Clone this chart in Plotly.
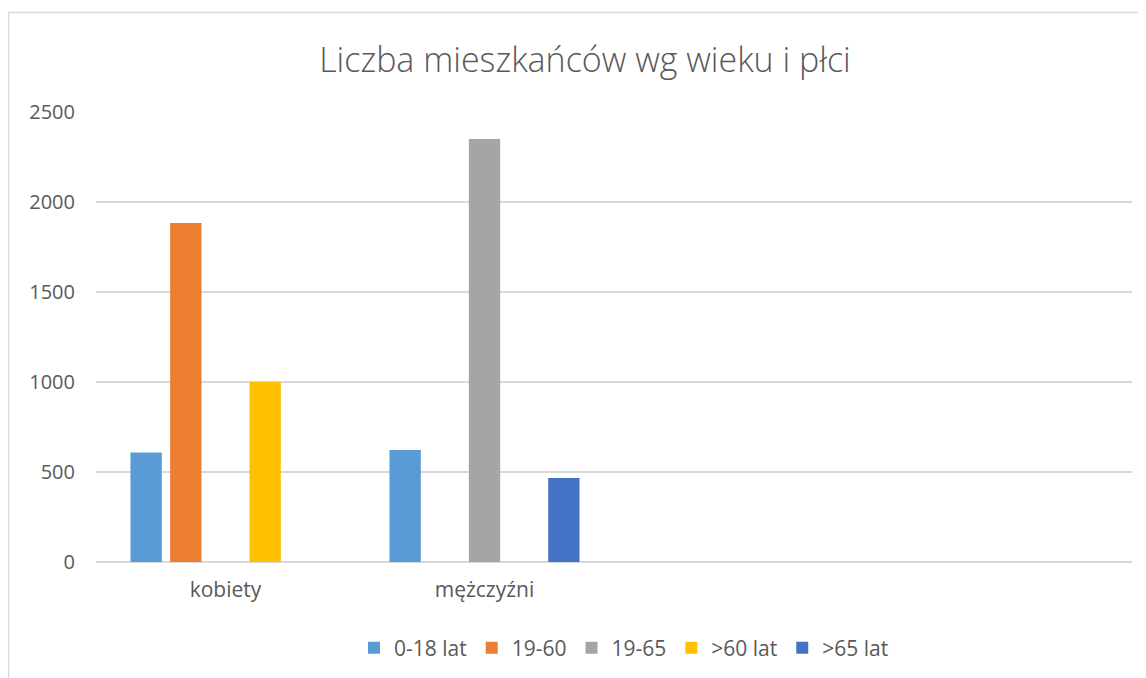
import plotly.graph_objects as go

categories = ["kobiety", "mężczyźni", " ", "  "]
series_names = ["0-18 lat", "19-60", "19-65", ">60 lat", ">65 lat"]
v_0_18 = [609, 622, None, None]
v_19_60 = [1883, None, None, None]
v_19_65 = [None, 2350, None, None]
v_60 = [1000, None, None, None]
v_65 = [None, 467, None, None]
colors = ["#5B9BD5", "#ED7D31", "#A5A5A5", "#FFC000", "#4472C4"]
y_ticks = [0, 500, 1000, 1500, 2000, 2500]

values = [v_0_18, v_19_60, v_19_65, v_60, v_65]
font = "Open Sans"
txt = "#595959"

fig = go.Figure()
for name, vals, col in zip(series_names, values, colors):
    fig.add_trace(go.Bar(x=categories, y=vals, name=name, marker=dict(color=col, line=dict(width=0))))

# page body has an 8px margin; work in reference coordinates shifted by OFF
OFF = 8
W, H = 1146 - OFF, 678 - OFF
L, R, T, B = 96 - OFF, 1146 - 1132, 112 - OFF, 678 - 562
pw, ph = W - L - R, H - T - B


def px(x):
    return (x - OFF - L) / pw


def py(y):
    return (H - B - (y - OFF)) / ph


fig.update_layout(
    width=W, height=H,
    margin=dict(l=L, r=R, t=T, b=B),
    paper_bgcolor="white", plot_bgcolor="white",
    barmode="group", bargap=0.234, bargroupgap=0.21,
    font=dict(family=font, color=txt, size=19),
    title=dict(text="Liczba mieszkańców wg wieku i płci", x=(585 - OFF) / W, xref="container", xanchor="center",
               y=1 - (60 - OFF) / H, yref="container", yanchor="middle",
               font=dict(family=font, size=34, color=txt, weight=300)),
    showlegend=True,
    legend=dict(orientation="h", x=(624 - OFF) / W, xref="container", xanchor="center",
                y=1 - (648 - OFF) / H, yref="container", yanchor="middle",
                font=dict(size=21, color=txt), itemwidth=30, traceorder="normal"),
    xaxis=dict(type="category", categoryorder="array", categoryarray=categories,
               range=[-0.5, 3.5], showgrid=False, showline=False, ticks="",
               ticklabelstandoff=13, tickfont=dict(size=21, color=txt)),
    yaxis=dict(range=[0, 2500], tickvals=y_ticks, showgrid=True, gridcolor="#D9D9D9", gridwidth=1.5,
               zeroline=True, zerolinecolor="#D9D9D9", zerolinewidth=1.5, showline=False, ticks="",
               ticklabelstandoff=20, tickfont=dict(size=20, color=txt)),
    shapes=[dict(type="rect", xref="paper", yref="paper",
                 x0=px(8.5), x1=px(1170), y0=py(700), y1=py(12.5),
                 line=dict(color="#D9D9D9", width=1.5), fillcolor="rgba(0,0,0,0)", layer="below")],
)

fig.write_html("out.html")
